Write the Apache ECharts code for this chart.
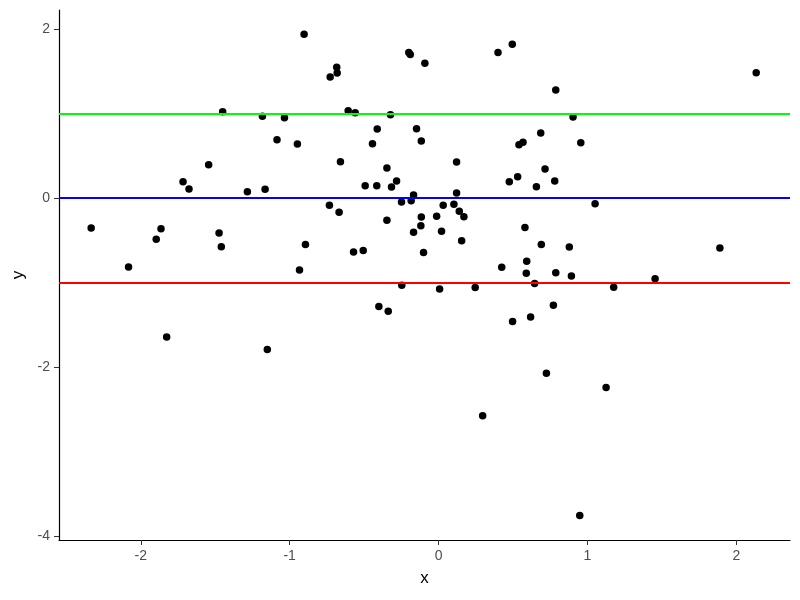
<!DOCTYPE html>
<html>
<head>
<meta charset="utf-8">
<script src="https://cdn.jsdelivr.net/npm/echarts@6/dist/echarts.min.js"></script>
<style>html,body{margin:0;padding:0;background:#fff;}#c{width:800px;height:600px;}</style>
</head>
<body>
<div id="c"></div>
<script>
const xs = [-0.903,-1.450,-1.183,-1.035,-1.085,-0.948,-1.544,-1.716,-1.676,-1.284,
  -1.165,-0.684,-0.681,-0.728,-0.200,-0.190,-0.092,0.399,0.495,-0.607,
  -0.560,-0.323,-0.412,-0.148,-0.444,-0.116,-0.659,0.121,-0.347,-0.493,
  -0.415,-0.282,-0.316,-0.168,-0.249,-0.184,-0.733,-0.668,0.031,0.103,
  0.121,0.475,0.531,0.657,0.540,0.567,0.787,2.133,0.903,0.686,
  0.955,0.715,0.780,1.051,-2.333,-1.864,-1.896,-1.474,-1.459,-0.894,
  -2.082,-0.934,-1.826,-1.150,0.139,0.170,-0.013,-0.116,-0.119,-0.168,
  0.020,0.155,-0.347,-0.571,-0.506,-0.101,0.580,0.424,0.592,0.589,
  0.645,-0.247,0.007,0.246,-0.401,-0.338,0.497,0.618,0.690,0.878,
  1.889,0.787,0.892,1.454,1.176,0.771,0.724,1.125,0.296,0.948];
const ys = [1.94,1.02,0.967,0.95,0.69,0.64,0.394,0.193,0.107,0.075,
  0.103,1.547,1.479,1.432,1.724,1.70,1.594,1.724,1.819,1.033,
  1.009,0.986,0.817,0.820,0.643,0.675,0.43,0.426,0.355,0.146,
  0.146,0.201,0.130,0.036,-0.047,-0.032,-0.087,-0.17,-0.087,-0.075,
  0.059,0.193,0.252,0.134,0.631,0.659,1.278,1.483,0.959,0.769,
  0.655,0.343,0.201,-0.067,-0.355,-0.363,-0.489,-0.414,-0.576,-0.552,
  -0.817,-0.852,-1.645,-1.795,-0.158,-0.221,-0.217,-0.225,-0.328,-0.406,
  -0.395,-0.505,-0.264,-0.639,-0.623,-0.647,-0.351,-0.820,-0.75,-0.891,
  -1.014,-1.033,-1.077,-1.061,-1.286,-1.341,-1.464,-1.408,-0.552,-0.580,
  -0.592,-0.884,-0.923,-0.955,-1.057,-1.270,-2.075,-2.245,-2.58,-3.76];
const hlineValues = [1, 0, -1];
const hlineColors = ['#00FF00', '#0000FF', '#FF0000'];
const xTicks = [-2, -1, 0, 1, 2];
const yTicks = [-4, -2, 0, 2];

const points = xs.map((x, i) => [x, ys[i]]);
const chart = echarts.init(document.getElementById('c'));
const font = 'Liberation Sans, Arial, sans-serif';
chart.setOption({
  animation: false,
  backgroundColor: '#ffffff',
  grid: { left: 59, right: 10, top: 10, bottom: 60, containLabel: false, outerBoundsMode: 'none' },
  xAxis: {
    type: 'value', min: -2.549, max: 2.36,
    name: 'x', nameLocation: 'middle', nameGap: 30,
    nameTextStyle: { fontFamily: font, fontSize: 17, color: '#000' },
    axisLine: { onZero: false, lineStyle: { color: '#000', width: 1.2 } },
    axisTick: { show: true, length: 5, customValues: xTicks, lineStyle: { color: '#333', width: 1 } },
    axisLabel: { customValues: xTicks, fontFamily: font, fontSize: 14, color: '#4D4D4D', margin: 9 },
    splitLine: { show: false }
  },
  yAxis: {
    type: 'value', min: -4.05, max: 2.226,
    name: 'y', nameLocation: 'middle', nameGap: 28, nameRotate: 90,
    nameTextStyle: { fontFamily: font, fontSize: 17, color: '#000' },
    axisLine: { show: true, onZero: false, lineStyle: { color: '#000', width: 1.2 } },
    axisTick: { show: true, length: 5, customValues: yTicks, lineStyle: { color: '#333', width: 1 } },
    axisLabel: { customValues: yTicks, fontFamily: font, fontSize: 14, color: '#4D4D4D', margin: 9 },
    splitLine: { show: false }
  },
  series: [
    {
      type: 'scatter', data: [], z: 1, silent: true,
      markLine: {
        symbol: 'none', silent: true, label: { show: false },
        data: hlineValues.map((v, i) => ({ yAxis: v, lineStyle: { color: hlineColors[i], width: 2, type: 'solid' } }))
      }
    },
    {
      type: 'scatter', data: points, z: 3, symbolSize: 7.5,
      itemStyle: { color: '#000', opacity: 1 }
    }
  ]
});
</script>
</body>
</html>
